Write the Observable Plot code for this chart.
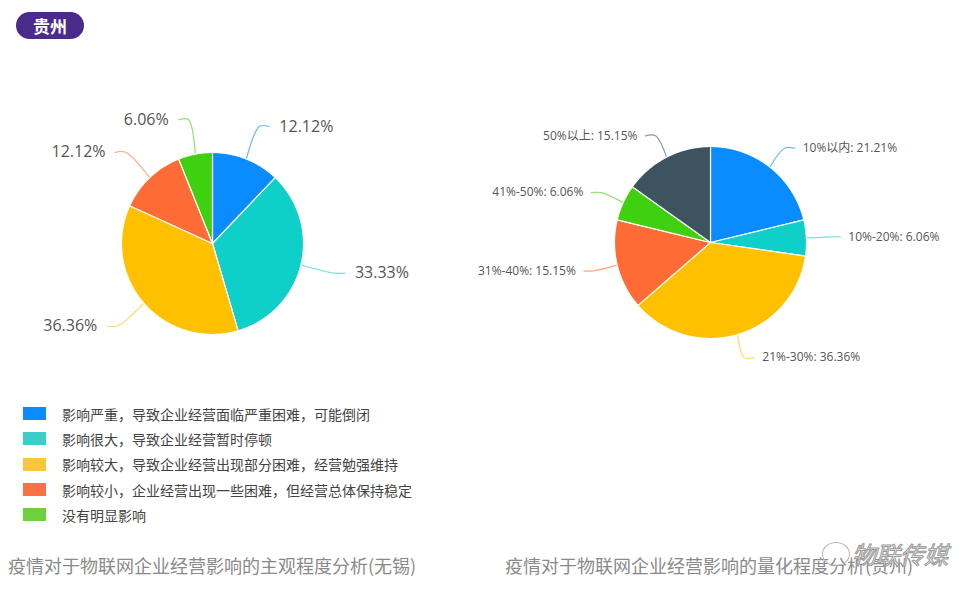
<!DOCTYPE html>
<html><head><meta charset="utf-8">
<script src="https://cdn.jsdelivr.net/npm/d3@7"></script>
<script src="https://cdn.jsdelivr.net/npm/@observablehq/plot@0.6"></script>
<style>
body{margin:0;background:#fff;font-family:"Open Sans","Noto Sans CJK SC",sans-serif;}
#wrap{position:relative;width:979px;height:600px;overflow:hidden;background:#fff;}
#wrap svg.plot{position:absolute;left:0;top:0;}
.badge{position:absolute;left:16px;top:12px;width:68px;height:27px;border-radius:14px;background:#4a2b8b;color:#fff;font-family:"Noto Sans CJK SC";font-weight:700;font-size:17px;line-height:27px;text-align:center;}
.legend{position:absolute;left:23px;top:401px;}
.legend .row{height:25.3px;display:flex;align-items:center;font-family:"Noto Sans CJK SC";font-size:14px;color:#444;}
.legend .sw{width:23px;height:13px;margin-right:16px;}
.cap{position:absolute;top:552px;font-family:"Noto Sans CJK SC";font-size:18px;color:#8a8a8a;white-space:nowrap;}
.wm{position:absolute;left:852px;top:536px;font-family:"Noto Sans CJK SC";font-size:24px;font-style:italic;color:#f6f6f6;-webkit-text-stroke:1px #9a9a9a;white-space:nowrap;}
.wmicon{position:absolute;left:822px;top:542px;width:26px;height:22px;border:1.3px solid #b5b5b5;border-radius:50%;}
</style></head><body><div id="wrap"></div><script>
// ---- data ----
const leftCategories = [
  "影响严重，导致企业经营面临严重困难，可能倒闭",
  "影响很大，导致企业经营暂时停顿",
  "影响较大，导致企业经营出现部分困难，经营勉强维持",
  "影响较小，企业经营出现一些困难，但经营总体保持稳定",
  "没有明显影响"
];
const leftValues = [12.12, 33.33, 36.36, 12.12, 6.06];
const rightCategories = ["10%以内", "10%-20%", "21%-30%", "31%-40%", "41%-50%", "50%以上"];
const rightValues = [21.21, 6.06, 36.36, 15.15, 6.06, 15.15];
const badgeText = "贵州";
const leftCaption = "疫情对于物联网企业经营影响的主观程度分析(无锡)";
const rightCaption = "疫情对于物联网企业经营影响的量化程度分析(贵州)";
const watermark = "物联传媒";

// ---- palette ----
const sliceColors = ["#0a8cff", "#0fd0c8", "#ffc000", "#ff6b35", "#3fd10f", "#3e5360"];
const swatchColors = ["#0a8cff", "#3dccc8", "#fec53b", "#ff7043", "#6fd03f"];

// ---- geometry ----
function buildPie(names, values, key, cx, cy, r, len1, len2, gap) {
  const arcs = d3.pie().sort(null).startAngle(0).endAngle(2 * Math.PI)(values);
  const pts = [], lines = [], labels = [];
  const P = (a, rr) => [cx + rr * Math.sin(a), cy - rr * Math.cos(a)];
  arcs.forEach((a, i) => {
    const id = key + i;
    const cat = key + ":" + i;
    pts.push({id, cat, x: cx, y: cy});
    const n = Math.max(2, Math.ceil((a.endAngle - a.startAngle) / 0.01));
    for (let k = 0; k <= n; k++) {
      const t = a.startAngle + (a.endAngle - a.startAngle) * k / n;
      const [x, y] = P(t, r);
      pts.push({id, cat, x, y});
    }
    pts.push({id, cat, x: cx, y: cy});
    const mid = (a.startAngle + a.endAngle) / 2;
    const side = Math.sin(mid) >= 0 ? 1 : -1;
    const p0 = P(mid, r), p1 = P(mid, r + len1);
    const p2 = [p1[0] + side * len2, p1[1]];
    [p0, p1, p2].forEach(p => lines.push({id, cat, x: p[0], y: p[1]}));
    labels.push({cat, side, x: p2[0] + side * gap, y: p2[1],
      text: key === "L" ? values[i].toFixed(2) + "%" : names[i] + ": " + values[i].toFixed(2) + "%"});
  });
  return {pts, lines, labels};
}

const L = buildPie(leftCategories, leftValues, "L", 212, 243, 91, 35, 10, 10);
const R = buildPie(rightCategories, rightValues, "R", 710, 242, 96, 24, 10, 8);

const colorDomain = [...leftValues.map((_, i) => "L:" + i), ...rightValues.map((_, i) => "R:" + i)];
const colorRange = [...leftValues.map((_, i) => sliceColors[i]), ...rightValues.map((_, i) => sliceColors[i])];

const plot = Plot.plot({
  width: 979, height: 400, margin: 0,
  x: {domain: [0, 979], range: [0, 979], axis: null},
  y: {domain: [0, 400], range: [0, 400], axis: null},
  color: {type: "ordinal", domain: colorDomain, range: colorRange},
  style: {background: "transparent", overflow: "visible"},
  marks: [
    Plot.line([...L.lines, ...R.lines], {x: "x", y: "y", z: "id", stroke: "cat", strokeWidth: 1.2, strokeOpacity: 0.6, curve: "catmull-rom"}),
    Plot.line([...L.pts, ...R.pts], {x: "x", y: "y", z: "id", fill: "cat", stroke: "white", strokeWidth: 1.2, curve: "linear"}),
    Plot.text(L.labels.filter(d => d.side > 0), {x: "x", y: "y", text: "text", textAnchor: "start", fontSize: 16, fill: "#555", fontFamily: "Open Sans, Noto Sans CJK SC"}),
    Plot.text(L.labels.filter(d => d.side < 0), {x: "x", y: "y", text: "text", textAnchor: "end", fontSize: 16, fill: "#555", fontFamily: "Open Sans, Noto Sans CJK SC"}),
    Plot.text(R.labels.filter(d => d.side > 0), {x: "x", y: "y", text: "text", textAnchor: "start", fontSize: 12, fill: "#555", fontFamily: "Open Sans, Noto Sans CJK SC"}),
    Plot.text(R.labels.filter(d => d.side < 0), {x: "x", y: "y", text: "text", textAnchor: "end", fontSize: 12, fill: "#555", fontFamily: "Open Sans, Noto Sans CJK SC"})
  ]
});

const wrap = document.getElementById("wrap");
wrap.appendChild(plot);

const badge = document.createElement("div");
badge.className = "badge"; badge.textContent = badgeText;
wrap.appendChild(badge);

const legend = document.createElement("div");
legend.className = "legend";
leftCategories.forEach((c, i) => {
  const row = document.createElement("div"); row.className = "row";
  const sw = document.createElement("span"); sw.className = "sw"; sw.style.background = swatchColors[i];
  const t = document.createElement("span"); t.textContent = c;
  row.appendChild(sw); row.appendChild(t); legend.appendChild(row);
});
wrap.appendChild(legend);

[[leftCaption, 8], [rightCaption, 505]].forEach(([t, x]) => {
  const d = document.createElement("div"); d.className = "cap"; d.style.left = x + "px"; d.textContent = t;
  wrap.appendChild(d);
});
const icon = document.createElement("div"); icon.className = "wmicon"; wrap.appendChild(icon);
const wm = document.createElement("div"); wm.className = "wm"; wm.textContent = watermark; wrap.appendChild(wm);
</script></body></html>
